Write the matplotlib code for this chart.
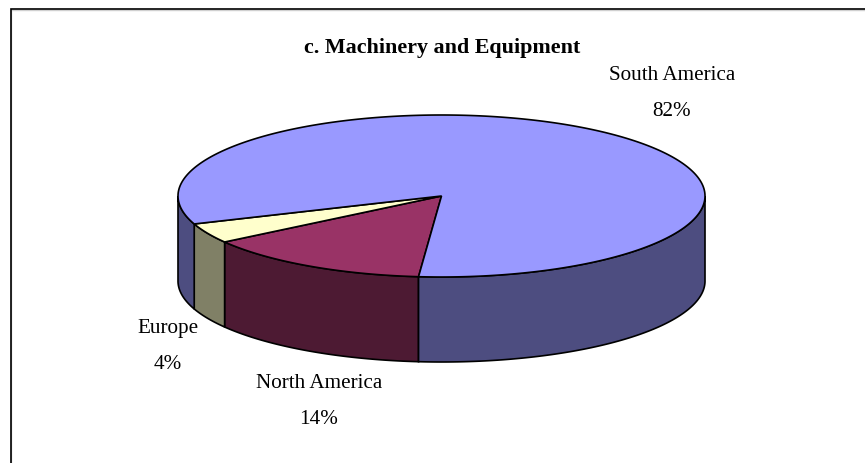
import numpy as np
import matplotlib
matplotlib.use("Agg")
import matplotlib.pyplot as plt
from matplotlib.patches import Polygon

# clockwise from the front of the pie
names = ["North America", "Europe", "South America"]
shares = [14, 4, 82]
top_colors = ["#993366", "#FFFFCC", "#9999FF"]
side_colors = ["#4D1A33", "#808066", "#4D4D80"]
title = "c. Machinery and Equipment"

start = 265.0
cx, cy = 441.5, 197.0
rx, ry = 263.5, 81.0
depth = 85.0

plt.rcParams["font.family"] = ["Liberation Serif", "DejaVu Serif"]

fig = plt.figure(figsize=(8.65, 4.64), dpi=100)
ax = fig.add_axes([0, 0, 1, 1])
ax.set_xlim(0, 865)
ax.set_ylim(464, 0)
ax.axis("off")


def arc(a, b, dy=0.0):
	t = np.radians(np.linspace(a, b, max(int(abs(b - a) * 2), 2)))
	return np.column_stack([cx + rx * np.cos(t), cy - ry * np.sin(t) + dy])


# frame, only top and left are in the crop
ax.plot([865, 11, 11], [10.5, 10.5, 464], color="#d0d0d0", lw=1.0, zorder=1, solid_joinstyle="miter")
ax.plot([865, 10.5, 10.5], [9.5, 9.5, 464], color="black", lw=1.2, zorder=2, solid_joinstyle="miter")

edges = start - np.cumsum([0] + shares) * 3.6

# side walls, only the front half (180..360) can be seen
for i in range(len(shares)):
	hi, lo = edges[i], edges[i + 1]
	parts = []
	if hi > 180:
		parts.append((hi, max(lo, 180)))
	if lo < 0:
		parts.append((0, lo))
	for a, b in parts:
		pts = np.vstack([arc(a, b), arc(b, a, depth)])
		ax.add_patch(Polygon(pts, closed=True, fc=side_colors[i], ec="black", lw=1.2, zorder=3))

# top faces
for i in range(len(shares)):
	pts = np.vstack([[[cx, cy]], arc(edges[i], edges[i + 1])])
	ax.add_patch(Polygon(pts, closed=True, fc=top_colors[i], ec="black", lw=1.2, zorder=4))

ax.text(442.5, 48, title, ha="center", va="center", fontsize=15.8, fontweight="bold", zorder=5)
ax.text(672, 75, names[2], ha="center", va="center", fontsize=15.2, zorder=5)
ax.text(672, 111, "%d%%" % shares[2], ha="center", va="center", fontsize=15.2, zorder=5)
ax.text(168, 329, names[1], ha="center", va="center", fontsize=15.2, zorder=5)
ax.text(168, 365, "%d%%" % shares[1], ha="center", va="center", fontsize=15.2, zorder=5)
ax.text(319, 384, names[0], ha="center", va="center", fontsize=15.2, zorder=5)
ax.text(319, 420, "%d%%" % shares[0], ha="center", va="center", fontsize=15.2, zorder=5)

fig.savefig("out.png", dpi=100)
